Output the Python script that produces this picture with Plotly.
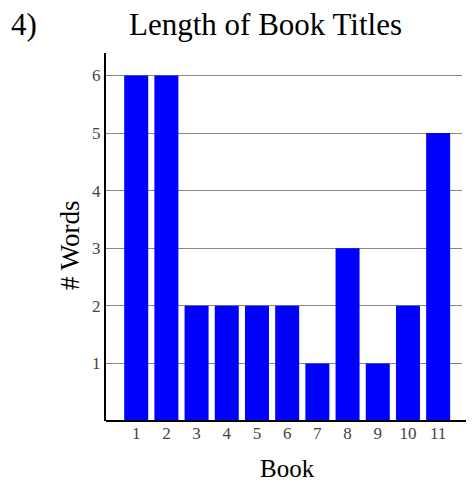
import plotly.graph_objects as go

books = list(range(1, 12))
words = [6, 6, 2, 2, 2, 2, 1, 3, 1, 2, 5]
tick_labels = [str(b) for b in books]
y_ticks = [1, 2, 3, 4, 5, 6]

FONT = "Liberation Serif, Times New Roman, serif"

# page body has an 8px margin; size the figure so it lines up with the window
OFF = 8
W, H = 474 - OFF, 484 - OFF
L, T = 106 - OFF, 53 - OFF
R = W - (462 - OFF)
B = H - (421 - OFF)

fig = go.Figure(go.Bar(x=books, y=words, marker=dict(color="#0000ff", line=dict(width=0)), width=0.795))

fig.update_layout(
    width=W, height=H,
    margin=dict(l=L, r=R, t=T, b=B, pad=0),
    paper_bgcolor="white", plot_bgcolor="white",
    showlegend=False,
    font=dict(family=FONT),
    xaxis=dict(range=[0, 11.79], tickvals=books, ticktext=tick_labels,
               showgrid=False, zeroline=False, showline=False,
               ticks="", tickfont=dict(size=17, color="#444", family=FONT)),
    yaxis=dict(range=[0, 6.39], tickvals=y_ticks, showgrid=True,
               gridcolor="#888", gridwidth=1, zeroline=False,
               showline=True, linecolor="black", linewidth=2,
               ticks="", ticklen=0, tickfont=dict(size=17, color="#444", family=FONT)),
    shapes=[
        dict(type="line", xref="paper", yref="paper", x0=0, x1=(W - L) / (W - L - R), y0=0, y1=0,
             line=dict(color="black", width=2)),
    ],
)

# annotations placed by window pixel position
pw = W - L - R
ph = H - T - B
texts = [
    ("4)", 24, 24, 31, 0),
    ("Length of Book Titles", 265, 24, 31, 0),
    ("Book", 287, 469, 25, 0),
    ("# Words", 70, 245, 27, -90),
]
for txt, px, py, size, ang in texts:
    fig.add_annotation(
        text=txt, xref="paper", yref="paper",
        x=(px - OFF - L) / pw, y=(H - B - (py - OFF)) / ph,
        xanchor="center", yanchor="middle", showarrow=False, textangle=ang,
        borderpad=0,
        font=dict(size=size, color="black", family=FONT),
    )

fig.write_html("out.html")
